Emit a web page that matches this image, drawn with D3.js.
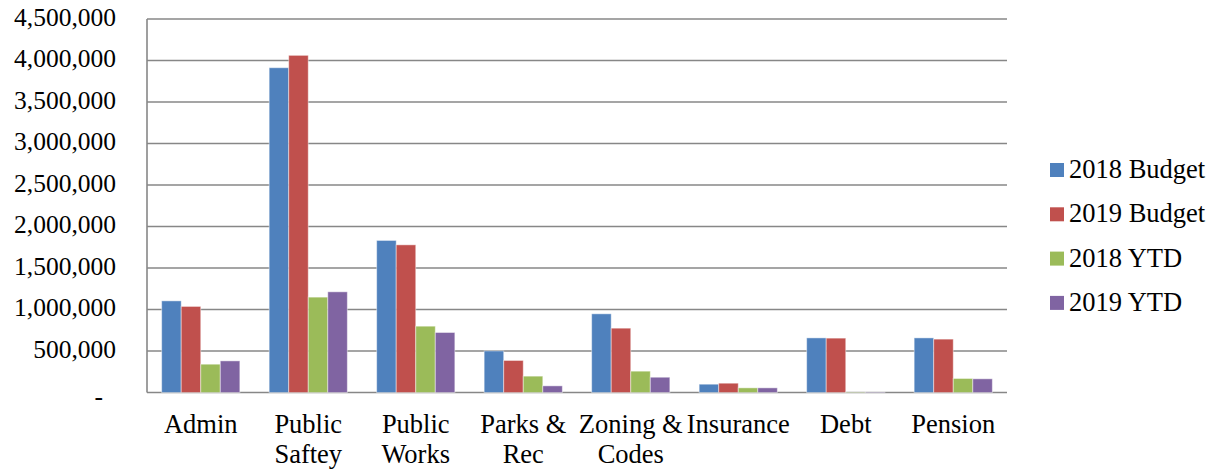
<!DOCTYPE html>
<html>
<head>
<meta charset="utf-8">
<script src="https://cdn.jsdelivr.net/npm/d3@7"></script>
<style>
  body { margin: 0; background: #fff; }
  text { font-family: "Liberation Serif", "Times New Roman", serif; fill: #000; }
</style>
</head>
<body>
<svg id="chart"></svg>
<script>
// data
const categories = ["Admin", "Public Saftey", "Public Works", "Parks & Rec", "Zoning & Codes", "Insurance", "Debt", "Pension"];
const categoryLines = [["Admin"], ["Public", "Saftey"], ["Public", "Works"], ["Parks &", "Rec"], ["Zoning &", "Codes"], ["Insurance"], ["Debt"], ["Pension"]];
const seriesNames = ["2018 Budget", "2019 Budget", "2018 YTD", "2019 YTD"];
const budget2018 = [1104000, 3913000, 1832000, 501000, 948000, 100000, 658000, 658000];
const budget2019 = [1037000, 4062000, 1779000, 386000, 775000, 112000, 655000, 643000];
const ytd2018 = [341000, 1149000, 799000, 197000, 257000, 56000, 5000, 169000];
const ytd2019 = [381000, 1213000, 723000, 80000, 184000, 56000, 5000, 165000];
const yTicks = [0, 500000, 1000000, 1500000, 2000000, 2500000, 3000000, 3500000, 4000000, 4500000];

const colors = ["#4F81BD", "#C0504D", "#9BBB59", "#8064A2"];
const seriesValues = [budget2018, budget2019, ytd2018, ytd2019];

const width = 1214, height = 470;
const plot = { left: 147, right: 1007, top: 19, bottom: 392.5 };

const svg = d3.select("#chart")
    .attr("width", width)
    .attr("height", height);

const x = d3.scaleBand()
    .domain(categories)
    .range([plot.left, plot.right]);

// 4 bars + gap of 1.5 bars (Excel gap width 150%)
const barW = x.bandwidth() / 5.5;
const x1 = d3.scaleBand()
    .domain(seriesNames)
    .range([0, barW * 4]);

const y = d3.scaleLinear()
    .domain([0, 4500000])
    .range([plot.bottom, plot.top]);

// gridlines
svg.append("g")
    .selectAll("line")
    .data(yTicks)
    .enter().append("line")
    .attr("x1", plot.left)
    .attr("x2", plot.right)
    .attr("y1", d => y(d))
    .attr("y2", d => y(d))
    .attr("stroke", "#878787")
    .attr("stroke-width", 1.6);

// left axis line
svg.append("line")
    .attr("x1", plot.left).attr("x2", plot.left)
    .attr("y1", plot.top).attr("y2", plot.bottom)
    .attr("stroke", "#878787")
    .attr("stroke-width", 1.6);

// y tick labels
svg.append("g")
    .selectAll("text")
    .data(yTicks)
    .enter().append("text")
    .attr("x", d => d === 0 ? 103 : 116)
    .attr("y", d => d === 0 ? y(d) + 4 : y(d) - 2)
    .attr("dy", "0.35em")
    .attr("text-anchor", "end")
    .style("font-size", "25.5px")
    .text(d => d === 0 ? "-" : d3.format(",")(d));

// bars
const groups = svg.append("g")
    .selectAll("g")
    .data(categories)
    .enter().append("g")
    .attr("transform", d => `translate(${x(d) + (x.bandwidth() - barW * 4) / 2},0)`);

groups.selectAll("rect")
    .data((d, i) => seriesNames.map((s, j) => ({ series: s, value: seriesValues[j][i], color: colors[j] })))
    .enter().append("rect")
    .attr("x", d => x1(d.series))
    .attr("width", x1.bandwidth())
    .attr("y", d => y(d.value))
    .attr("height", d => plot.bottom - y(d.value))
    .attr("fill", d => d.color)
    .attr("stroke", "rgba(255,255,255,0.45)")
    .attr("stroke-width", 1);

// category labels
const labels = svg.append("g")
    .selectAll("text")
    .data(categories)
    .enter().append("text")
    .attr("x", d => x(d) + x.bandwidth() / 2)
    .attr("y", 433)
    .attr("text-anchor", "middle")
    .style("font-size", "26.5px");

labels.selectAll("tspan")
    .data((d, i) => categoryLines[i])
    .enter().append("tspan")
    .attr("x", function() { return d3.select(this.parentNode).attr("x"); })
    .attr("dy", (d, i) => i === 0 ? 0 : 30)
    .text(d => d);

// legend
const legend = svg.append("g")
    .attr("transform", "translate(1050,178)");

legend.selectAll("rect")
    .data(seriesNames)
    .enter().append("rect")
    .attr("x", 0)
    .attr("y", (d, i) => i * 44.3 - 15)
    .attr("width", 14)
    .attr("height", 14)
    .attr("fill", (d, i) => colors[i]);

legend.selectAll("text")
    .data(seriesNames)
    .enter().append("text")
    .attr("x", 19)
    .attr("y", (d, i) => i * 44.3)
    .style("font-size", "26.5px")
    .text(d => d);
</script>
</body>
</html>
